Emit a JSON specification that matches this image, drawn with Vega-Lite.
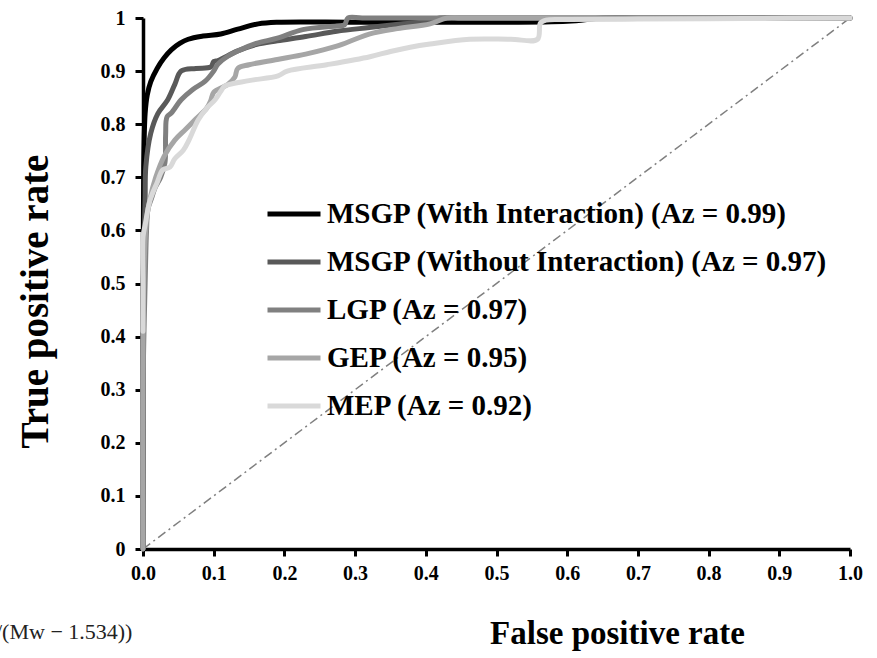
{
  "$schema": "https://vega.github.io/schema/vega-lite/v6.json",
  "width": 707,
  "height": 531,
  "autosize": {"type": "none"},
  "padding": {"left": 143, "top": 18, "right": 27, "bottom": 109},
  "background": "white",
  "config": {"view": {"stroke": null}, "font": "Liberation Serif"},
  "title": {"text": "/(Mw − 1.534))", "orient": "bottom", "anchor": "start", "frame": "group", "fontSize": 22, "fontWeight": "normal", "font": "Liberation Serif", "color": "#222222", "dx": -147, "dy": -32},
  "datasets": {
    "diag": [{"x": 0, "y": 0}, {"x": 1, "y": 1}],
    "roc": [
      {"s": "MSGP (With Interaction) (Az = 0.99)", "i": 0, "x": 0, "y": 0},
      {"s": "MSGP (With Interaction) (Az = 0.99)", "i": 1, "x": 0, "y": 0.5},
      {"s": "MSGP (With Interaction) (Az = 0.99)", "i": 2, "x": 0.001, "y": 0.72},
      {"s": "MSGP (With Interaction) (Az = 0.99)", "i": 3, "x": 0.003, "y": 0.82},
      {"s": "MSGP (With Interaction) (Az = 0.99)", "i": 4, "x": 0.006, "y": 0.855},
      {"s": "MSGP (With Interaction) (Az = 0.99)", "i": 5, "x": 0.011, "y": 0.88},
      {"s": "MSGP (With Interaction) (Az = 0.99)", "i": 6, "x": 0.02, "y": 0.905},
      {"s": "MSGP (With Interaction) (Az = 0.99)", "i": 7, "x": 0.03, "y": 0.925},
      {"s": "MSGP (With Interaction) (Az = 0.99)", "i": 8, "x": 0.04, "y": 0.94},
      {"s": "MSGP (With Interaction) (Az = 0.99)", "i": 9, "x": 0.052, "y": 0.952},
      {"s": "MSGP (With Interaction) (Az = 0.99)", "i": 10, "x": 0.064, "y": 0.96},
      {"s": "MSGP (With Interaction) (Az = 0.99)", "i": 11, "x": 0.085, "y": 0.966},
      {"s": "MSGP (With Interaction) (Az = 0.99)", "i": 12, "x": 0.11, "y": 0.97},
      {"s": "MSGP (With Interaction) (Az = 0.99)", "i": 13, "x": 0.134, "y": 0.979},
      {"s": "MSGP (With Interaction) (Az = 0.99)", "i": 14, "x": 0.163, "y": 0.989},
      {"s": "MSGP (With Interaction) (Az = 0.99)", "i": 15, "x": 0.19, "y": 0.992},
      {"s": "MSGP (With Interaction) (Az = 0.99)", "i": 16, "x": 0.3, "y": 0.992},
      {"s": "MSGP (With Interaction) (Az = 0.99)", "i": 17, "x": 0.45, "y": 0.992},
      {"s": "MSGP (With Interaction) (Az = 0.99)", "i": 18, "x": 0.6, "y": 0.994},
      {"s": "MSGP (With Interaction) (Az = 0.99)", "i": 19, "x": 0.65, "y": 1},
      {"s": "MSGP (With Interaction) (Az = 0.99)", "i": 20, "x": 0.7, "y": 1},
      {"s": "MSGP (With Interaction) (Az = 0.99)", "i": 21, "x": 0.85, "y": 1},
      {"s": "MSGP (With Interaction) (Az = 0.99)", "i": 22, "x": 1, "y": 1},

      {"s": "MSGP (Without Interaction) (Az = 0.97)", "i": 0, "x": 0, "y": 0},
      {"s": "MSGP (Without Interaction) (Az = 0.97)", "i": 1, "x": 0, "y": 0.45},
      {"s": "MSGP (Without Interaction) (Az = 0.97)", "i": 2, "x": 0.002, "y": 0.6},
      {"s": "MSGP (Without Interaction) (Az = 0.97)", "i": 3, "x": 0.003, "y": 0.66},
      {"s": "MSGP (Without Interaction) (Az = 0.97)", "i": 4, "x": 0.004, "y": 0.72},
      {"s": "MSGP (Without Interaction) (Az = 0.97)", "i": 5, "x": 0.011, "y": 0.783},
      {"s": "MSGP (Without Interaction) (Az = 0.97)", "i": 6, "x": 0.021, "y": 0.82},
      {"s": "MSGP (Without Interaction) (Az = 0.97)", "i": 7, "x": 0.035, "y": 0.846},
      {"s": "MSGP (Without Interaction) (Az = 0.97)", "i": 8, "x": 0.045, "y": 0.875},
      {"s": "MSGP (Without Interaction) (Az = 0.97)", "i": 9, "x": 0.054, "y": 0.9},
      {"s": "MSGP (Without Interaction) (Az = 0.97)", "i": 10, "x": 0.075, "y": 0.905},
      {"s": "MSGP (Without Interaction) (Az = 0.97)", "i": 11, "x": 0.096, "y": 0.908},
      {"s": "MSGP (Without Interaction) (Az = 0.97)", "i": 12, "x": 0.1, "y": 0.918},
      {"s": "MSGP (Without Interaction) (Az = 0.97)", "i": 13, "x": 0.106, "y": 0.92},
      {"s": "MSGP (Without Interaction) (Az = 0.97)", "i": 14, "x": 0.134, "y": 0.938},
      {"s": "MSGP (Without Interaction) (Az = 0.97)", "i": 15, "x": 0.16, "y": 0.95},
      {"s": "MSGP (Without Interaction) (Az = 0.97)", "i": 16, "x": 0.19, "y": 0.957},
      {"s": "MSGP (Without Interaction) (Az = 0.97)", "i": 17, "x": 0.23, "y": 0.965},
      {"s": "MSGP (Without Interaction) (Az = 0.97)", "i": 18, "x": 0.274, "y": 0.975},
      {"s": "MSGP (Without Interaction) (Az = 0.97)", "i": 19, "x": 0.32, "y": 0.982},
      {"s": "MSGP (Without Interaction) (Az = 0.97)", "i": 20, "x": 0.368, "y": 0.989},
      {"s": "MSGP (Without Interaction) (Az = 0.97)", "i": 21, "x": 0.406, "y": 0.994},
      {"s": "MSGP (Without Interaction) (Az = 0.97)", "i": 22, "x": 0.42, "y": 1},
      {"s": "MSGP (Without Interaction) (Az = 0.97)", "i": 23, "x": 0.45, "y": 1},
      {"s": "MSGP (Without Interaction) (Az = 0.97)", "i": 24, "x": 0.6, "y": 1},
      {"s": "MSGP (Without Interaction) (Az = 0.97)", "i": 25, "x": 0.8, "y": 1},
      {"s": "MSGP (Without Interaction) (Az = 0.97)", "i": 26, "x": 1, "y": 1},

      {"s": "LGP (Az = 0.97)", "i": 0, "x": 0, "y": 0},
      {"s": "LGP (Az = 0.97)", "i": 1, "x": 0, "y": 0.3},
      {"s": "LGP (Az = 0.97)", "i": 2, "x": 0.003, "y": 0.5},
      {"s": "LGP (Az = 0.97)", "i": 3, "x": 0.005, "y": 0.6},
      {"s": "LGP (Az = 0.97)", "i": 4, "x": 0.007, "y": 0.64},
      {"s": "LGP (Az = 0.97)", "i": 5, "x": 0.012, "y": 0.66},
      {"s": "LGP (Az = 0.97)", "i": 6, "x": 0.017, "y": 0.68},
      {"s": "LGP (Az = 0.97)", "i": 7, "x": 0.025, "y": 0.7},
      {"s": "LGP (Az = 0.97)", "i": 8, "x": 0.031, "y": 0.727},
      {"s": "LGP (Az = 0.97)", "i": 9, "x": 0.032, "y": 0.78},
      {"s": "LGP (Az = 0.97)", "i": 10, "x": 0.034, "y": 0.814},
      {"s": "LGP (Az = 0.97)", "i": 11, "x": 0.04, "y": 0.821},
      {"s": "LGP (Az = 0.97)", "i": 12, "x": 0.054, "y": 0.846},
      {"s": "LGP (Az = 0.97)", "i": 13, "x": 0.07, "y": 0.865},
      {"s": "LGP (Az = 0.97)", "i": 14, "x": 0.088, "y": 0.881},
      {"s": "LGP (Az = 0.97)", "i": 15, "x": 0.1, "y": 0.9},
      {"s": "LGP (Az = 0.97)", "i": 16, "x": 0.106, "y": 0.913},
      {"s": "LGP (Az = 0.97)", "i": 17, "x": 0.12, "y": 0.928},
      {"s": "LGP (Az = 0.97)", "i": 18, "x": 0.134, "y": 0.938},
      {"s": "LGP (Az = 0.97)", "i": 19, "x": 0.16, "y": 0.952},
      {"s": "LGP (Az = 0.97)", "i": 20, "x": 0.19, "y": 0.962},
      {"s": "LGP (Az = 0.97)", "i": 21, "x": 0.226, "y": 0.978},
      {"s": "LGP (Az = 0.97)", "i": 22, "x": 0.274, "y": 0.985},
      {"s": "LGP (Az = 0.97)", "i": 23, "x": 0.285, "y": 0.987},
      {"s": "LGP (Az = 0.97)", "i": 24, "x": 0.29, "y": 1},
      {"s": "LGP (Az = 0.97)", "i": 25, "x": 0.31, "y": 1},
      {"s": "LGP (Az = 0.97)", "i": 26, "x": 0.4, "y": 1},
      {"s": "LGP (Az = 0.97)", "i": 27, "x": 0.6, "y": 1},
      {"s": "LGP (Az = 0.97)", "i": 28, "x": 0.8, "y": 1},
      {"s": "LGP (Az = 0.97)", "i": 29, "x": 1, "y": 1},

      {"s": "GEP (Az = 0.95)", "i": 0, "x": 0, "y": 0},
      {"s": "GEP (Az = 0.95)", "i": 1, "x": 0, "y": 0.41},
      {"s": "GEP (Az = 0.95)", "i": 2, "x": 0.002, "y": 0.55},
      {"s": "GEP (Az = 0.95)", "i": 3, "x": 0.005, "y": 0.62},
      {"s": "GEP (Az = 0.95)", "i": 4, "x": 0.01, "y": 0.66},
      {"s": "GEP (Az = 0.95)", "i": 5, "x": 0.018, "y": 0.7},
      {"s": "GEP (Az = 0.95)", "i": 6, "x": 0.03, "y": 0.74},
      {"s": "GEP (Az = 0.95)", "i": 7, "x": 0.045, "y": 0.77},
      {"s": "GEP (Az = 0.95)", "i": 8, "x": 0.06, "y": 0.79},
      {"s": "GEP (Az = 0.95)", "i": 9, "x": 0.075, "y": 0.81},
      {"s": "GEP (Az = 0.95)", "i": 10, "x": 0.09, "y": 0.83},
      {"s": "GEP (Az = 0.95)", "i": 11, "x": 0.096, "y": 0.845},
      {"s": "GEP (Az = 0.95)", "i": 12, "x": 0.1, "y": 0.86},
      {"s": "GEP (Az = 0.95)", "i": 13, "x": 0.12, "y": 0.875},
      {"s": "GEP (Az = 0.95)", "i": 14, "x": 0.13, "y": 0.889},
      {"s": "GEP (Az = 0.95)", "i": 15, "x": 0.134, "y": 0.905},
      {"s": "GEP (Az = 0.95)", "i": 16, "x": 0.15, "y": 0.912},
      {"s": "GEP (Az = 0.95)", "i": 17, "x": 0.19, "y": 0.922},
      {"s": "GEP (Az = 0.95)", "i": 18, "x": 0.23, "y": 0.932},
      {"s": "GEP (Az = 0.95)", "i": 19, "x": 0.274, "y": 0.947},
      {"s": "GEP (Az = 0.95)", "i": 20, "x": 0.3, "y": 0.96},
      {"s": "GEP (Az = 0.95)", "i": 21, "x": 0.321, "y": 0.97},
      {"s": "GEP (Az = 0.95)", "i": 22, "x": 0.36, "y": 0.98},
      {"s": "GEP (Az = 0.95)", "i": 23, "x": 0.406, "y": 0.989},
      {"s": "GEP (Az = 0.95)", "i": 24, "x": 0.43, "y": 1},
      {"s": "GEP (Az = 0.95)", "i": 25, "x": 0.45, "y": 1},
      {"s": "GEP (Az = 0.95)", "i": 26, "x": 0.6, "y": 1},
      {"s": "GEP (Az = 0.95)", "i": 27, "x": 0.8, "y": 1},
      {"s": "GEP (Az = 0.95)", "i": 28, "x": 1, "y": 1},

      {"s": "MEP (Az = 0.92)", "i": 0, "x": 0, "y": 0.41},
      {"s": "MEP (Az = 0.92)", "i": 1, "x": 0, "y": 0.5},
      {"s": "MEP (Az = 0.92)", "i": 2, "x": 0, "y": 0.588},
      {"s": "MEP (Az = 0.92)", "i": 3, "x": 0.003, "y": 0.61},
      {"s": "MEP (Az = 0.92)", "i": 4, "x": 0.01, "y": 0.657},
      {"s": "MEP (Az = 0.92)", "i": 5, "x": 0.02, "y": 0.69},
      {"s": "MEP (Az = 0.92)", "i": 6, "x": 0.028, "y": 0.714},
      {"s": "MEP (Az = 0.92)", "i": 7, "x": 0.038, "y": 0.719},
      {"s": "MEP (Az = 0.92)", "i": 8, "x": 0.045, "y": 0.735},
      {"s": "MEP (Az = 0.92)", "i": 9, "x": 0.057, "y": 0.751},
      {"s": "MEP (Az = 0.92)", "i": 10, "x": 0.065, "y": 0.77},
      {"s": "MEP (Az = 0.92)", "i": 11, "x": 0.078, "y": 0.808},
      {"s": "MEP (Az = 0.92)", "i": 12, "x": 0.09, "y": 0.83},
      {"s": "MEP (Az = 0.92)", "i": 13, "x": 0.102, "y": 0.846},
      {"s": "MEP (Az = 0.92)", "i": 14, "x": 0.11, "y": 0.862},
      {"s": "MEP (Az = 0.92)", "i": 15, "x": 0.116, "y": 0.872},
      {"s": "MEP (Az = 0.92)", "i": 16, "x": 0.15, "y": 0.882},
      {"s": "MEP (Az = 0.92)", "i": 17, "x": 0.191, "y": 0.891},
      {"s": "MEP (Az = 0.92)", "i": 18, "x": 0.204, "y": 0.9},
      {"s": "MEP (Az = 0.92)", "i": 19, "x": 0.26, "y": 0.912},
      {"s": "MEP (Az = 0.92)", "i": 20, "x": 0.321, "y": 0.927},
      {"s": "MEP (Az = 0.92)", "i": 21, "x": 0.35, "y": 0.937},
      {"s": "MEP (Az = 0.92)", "i": 22, "x": 0.378, "y": 0.945},
      {"s": "MEP (Az = 0.92)", "i": 23, "x": 0.406, "y": 0.951},
      {"s": "MEP (Az = 0.92)", "i": 24, "x": 0.462, "y": 0.96},
      {"s": "MEP (Az = 0.92)", "i": 25, "x": 0.52, "y": 0.96},
      {"s": "MEP (Az = 0.92)", "i": 26, "x": 0.558, "y": 0.96},
      {"s": "MEP (Az = 0.92)", "i": 27, "x": 0.562, "y": 0.99},
      {"s": "MEP (Az = 0.92)", "i": 28, "x": 0.57, "y": 0.996},
      {"s": "MEP (Az = 0.92)", "i": 29, "x": 0.6, "y": 0.997},
      {"s": "MEP (Az = 0.92)", "i": 30, "x": 0.7, "y": 0.998},
      {"s": "MEP (Az = 0.92)", "i": 31, "x": 0.85, "y": 0.999},
      {"s": "MEP (Az = 0.92)", "i": 32, "x": 1, "y": 1}
    ]
  },
  "encoding": {
    "x": {
      "field": "x", "type": "quantitative",
      "scale": {"domain": [0, 1], "nice": false, "zero": false},
      "axis": {
        "title": "False positive rate",
        "values": [0, 0.1, 0.2, 0.3, 0.4, 0.5, 0.6, 0.7, 0.8, 0.9, 1],
        "format": ".1f",
        "grid": false,
        "labelFont": "Liberation Serif", "labelFontWeight": "bold", "labelFontSize": 20, "labelColor": "black",
        "labelPadding": 7, "labelFlush": false, "labelOverlap": false,
        "tickSize": 7, "tickWidth": 3, "tickColor": "black",
        "domainColor": "black", "domainWidth": 3.5,
        "titleFont": "Liberation Serif", "titleFontWeight": "bold", "titleFontSize": 33, "titleColor": "black",
        "titleX": 474, "titleY": 94, "titleBaseline": "alphabetic", "titleAlign": "center"
      }
    },
    "y": {
      "field": "y", "type": "quantitative",
      "scale": {"domain": [0, 1], "nice": false, "zero": false},
      "axis": {
        "title": "True positive rate",
        "values": [0, 0.1, 0.2, 0.3, 0.4, 0.5, 0.6, 0.7, 0.8, 0.9, 1],
        "labelExpr": "datum.value == 0 ? '0' : (datum.value == 1 ? '1' : format(datum.value, '.1f'))",
        "grid": false,
        "labelFont": "Liberation Serif", "labelFontWeight": "bold", "labelFontSize": 20, "labelColor": "black",
        "labelPadding": 10, "labelFlush": false, "labelOverlap": false,
        "tickSize": 8, "tickWidth": 3, "tickColor": "black",
        "domainColor": "black", "domainWidth": 3.5,
        "titleFont": "Liberation Serif", "titleFontWeight": "bold", "titleFontSize": 39, "titleColor": "black",
        "titleAngle": 270, "titleX": -96, "titleY": 283, "titleBaseline": "alphabetic", "titleAlign": "center"
      }
    }
  },
  "layer": [
    {
      "data": {"name": "diag"},
      "mark": {"type": "line", "color": "#7f7f7f", "strokeWidth": 1.5, "strokeDash": [9, 4, 2, 4]}
    },
    {
      "data": {"name": "roc"},
      "mark": {"type": "line", "strokeWidth": 5, "strokeCap": "round", "strokeJoin": "round", "interpolate": "catmull-rom"},
      "encoding": {
        "order": {"field": "i", "type": "quantitative"},
        "color": {
          "field": "s", "type": "nominal",
          "scale": {
            "domain": ["MSGP (With Interaction) (Az = 0.99)", "MSGP (Without Interaction) (Az = 0.97)", "LGP (Az = 0.97)", "GEP (Az = 0.95)", "MEP (Az = 0.92)"],
            "range": ["#000000", "#595959", "#808080", "#a6a6a6", "#d9d9d9"]
          },
          "legend": {
            "orient": "none", "legendX": 122, "legendY": 174,
            "title": null,
            "symbolType": "stroke", "symbolSize": 2809, "symbolStrokeWidth": 5,
            "labelFont": "Liberation Serif", "labelFontWeight": "bold", "labelFontSize": 29, "labelColor": "black",
            "labelLimit": 0, "labelOffset": 4, "rowPadding": 4, "clipHeight": 44
          }
        }
      }
    }
  ]
}
